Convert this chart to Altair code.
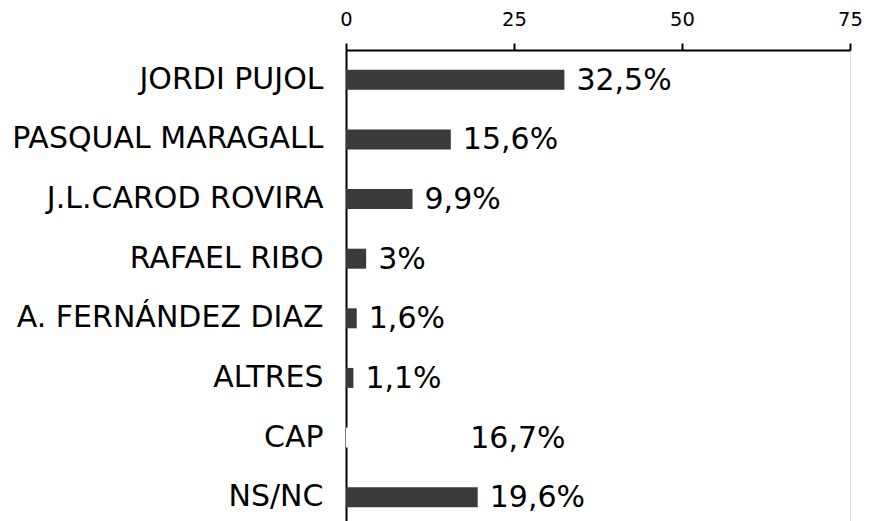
import altair as alt
import pandas as pd

names = ["JORDI PUJOL", "PASQUAL MARAGALL", "J.L.CAROD ROVIRA", "RAFAEL RIBO",
         "A. FERNÁNDEZ DIAZ", "ALTRES", "CAP", "NS/NC"]
values = [32.5, 15.6, 9.9, 3.0, 1.6, 1.1, 16.7, 19.6]
ticks = [0, 25, 50, 75]

labels = [f"{v:g}".replace(".", ",") + "%" for v in values]
df = pd.DataFrame({"name": names, "value": values, "label": labels})

y = alt.Y("name:N", sort=names, title=None,
          scale=alt.Scale(paddingInner=0.66, paddingOuter=0.33),
          axis=alt.Axis(labelFont="DejaVu Sans", labelFontSize=30, labelColor="black",
                        ticks=False, domain=True, domainColor="black", domainWidth=2,
                        labelPadding=23, grid=False, labelLimit=0))
x = alt.X("value:Q", title=None,
          scale=alt.Scale(domain=[0, 75], nice=False),
          axis=alt.Axis(orient="top", values=ticks, labelFont="DejaVu Sans",
                        labelFontSize=19.5, labelColor="black", tickColor="black",
                        tickSize=7, tickWidth=2, domainColor="black", domainWidth=2,
                        labelPadding=14, grid=False, labelFlush=False))

bars = alt.Chart(df).mark_bar(size=20).encode(
    x=x, y=y,
    color=alt.condition(alt.datum.name == "CAP", alt.value("white"), alt.value("#3a3a3a")),
)
text = alt.Chart(df).mark_text(align="left", baseline="middle", dx=12, dy=1,
                               font="DejaVu Sans", fontSize=30, color="black").encode(
    x="value:Q", y=alt.Y("name:N", sort=names), text="label:N")

chart = (bars + text).properties(
    width=504, height=477,
    autosize=alt.AutoSizeParams(type="none"),
    padding={"left": 338, "top": 42, "right": 12, "bottom": 0},
).configure_view(stroke="#444", strokeWidth=1.5).configure(background="white")

chart.save("out.html", embed_options={"renderer": "svg", "actions": False})
